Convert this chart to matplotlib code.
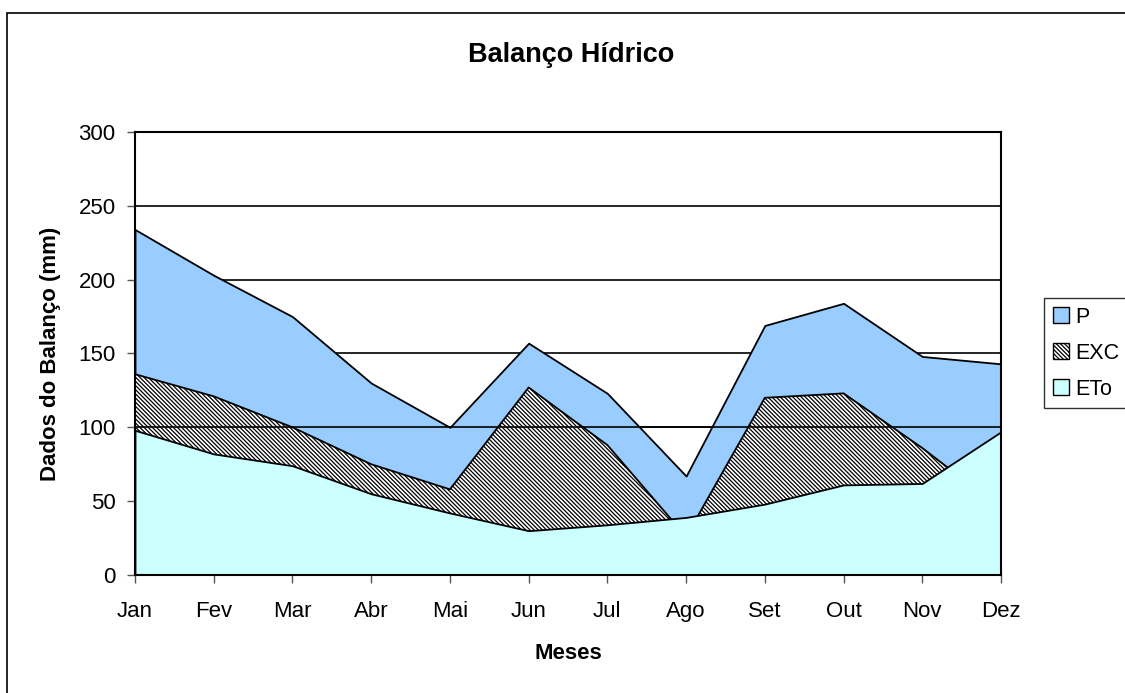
import numpy as np
import matplotlib.pyplot as plt
from matplotlib.patches import Rectangle, Patch

plt.rcParams['font.family'] = ['Liberation Sans', 'DejaVu Sans']
plt.rcParams['hatch.linewidth'] = 0.9

# Balanço hídrico mensal (mm)
meses = ['Jan', 'Fev', 'Mar', 'Abr', 'Mai', 'Jun', 'Jul', 'Ago', 'Set', 'Out', 'Nov', 'Dez']
p = [234, 203, 175, 130, 100, 157, 123, 67, 169, 184, 148, 143]
exc = [136, 121, 100, 75, 58, 127, 88, 26, 120, 123, 86, 45]
eto = [98, 82, 74, 55, 42, 30, 34, 39, 48, 61, 62, 97]
y_ticks = [0, 50, 100, 150, 200, 250, 300]

HATCH = chr(92) * 8  # diagonal "\" densa

fig = plt.figure(figsize=(11.25, 6.93), dpi=100)
ax = fig.add_axes([0.12, 0.1703, 0.7698, 0.6392])

x = np.arange(len(meses))

# grade atrás das áreas
for v in y_ticks[1:-1]:
    ax.axhline(v, color='black', lw=1.2, zorder=0)

ax.fill_between(x, 0, p, facecolor='#99CCFF', edgecolor='black', lw=1.3, zorder=1)
ax.fill_between(x, 0, exc, facecolor='white', edgecolor='black', hatch=HATCH, lw=1.3, zorder=2)
ax.fill_between(x, 0, eto, facecolor='#CCFFFF', edgecolor='black', lw=1.3, zorder=3)
ax.axhline(100, color='black', lw=1.2, zorder=4)

ax.set_xlim(0, len(meses) - 1)
ax.set_ylim(0, 300)
ax.set_xticks(x)
ax.set_xticklabels(meses)
ax.set_yticks(y_ticks)
ax.tick_params(axis='both', direction='out', length=6, width=1, labelsize=16, color='#555555')
ax.tick_params(axis='x', pad=13)
ax.tick_params(axis='y', pad=8)
for s in ax.spines.values():
    s.set_linewidth(1.5)
    s.set_zorder(5)

ax.set_xlabel('Meses', fontsize=16, fontweight='bold')
ax.set_ylabel('Dados do Balanço (mm)', fontsize=16, fontweight='bold')
ax.xaxis.set_label_coords(0.5, -0.153)
ax.yaxis.set_label_coords(-0.086, 0.5)
fig.text(0.508, 0.921, 'Balanço Hídrico', fontsize=19.5, fontweight='bold', ha='center', va='center')

handles = [Patch(facecolor='#99CCFF', edgecolor='black', label='P'),
           Patch(facecolor='white', edgecolor='black', hatch=HATCH, label='EXC'),
           Patch(facecolor='#CCFFFF', edgecolor='black', label='ETo')]
leg = fig.legend(handles=handles, loc='upper left', bbox_to_anchor=(0.928, 0.570),
                 fontsize=15.5, frameon=True, fancybox=False, edgecolor='black',
                 handlelength=0.75, handleheight=0.75, handletextpad=0.3,
                 borderpad=0.4, labelspacing=0.7, borderaxespad=0)
leg.get_frame().set_linewidth(1.0)

# moldura externa do gráfico
fig.patches.append(Rectangle((7 / 1125, -0.05), 1.2, 1.05 - 13 / 693, transform=fig.transFigure,
                             fill=False, edgecolor='black', lw=1.2))

fig.savefig('out.png', dpi=100)
